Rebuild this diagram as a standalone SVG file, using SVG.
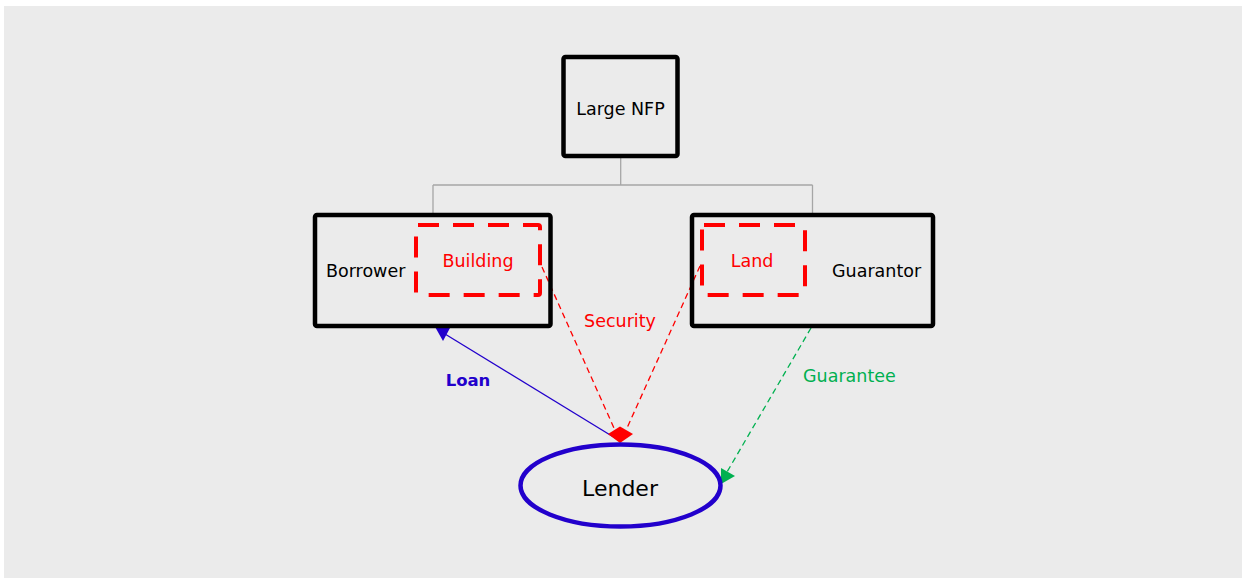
<svg xmlns="http://www.w3.org/2000/svg" width="1242" height="578" viewBox="0 0 1242 578">
<style>
.box{fill:none;stroke:#000;stroke-width:4.5}
.asset{fill:none;stroke:#FF0000;stroke-width:4;stroke-dasharray:21 14}
.t{font-family:"DejaVu Sans",sans-serif;font-size:17.5px;fill:#000}
.red{fill:#FF0000}
.org{fill:none;stroke:#A6A6A6;stroke-width:1.3}
.sec{fill:none;stroke:#FF0000;stroke-width:1.3;stroke-dasharray:6 4}
.gua{fill:none;stroke:#00B050;stroke-width:1.3;stroke-dasharray:6 4}
</style>
<rect x="4" y="6" width="1238" height="572" fill="#EBEBEB"/>
<g id="connectors">
<path class="org" d="M620.7 156V185M433 185H812.5M433 185V215M812.5 185V215"/>
<line x1="620" y1="441" x2="445" y2="334" stroke="#2200CC" stroke-width="1.3"/>
<polygon points="434,325 450,328 443,341" fill="#2200CC"/>
<line class="sec" x1="542" y1="267" x2="614" y2="428"/>
<line class="sec" x1="700" y1="266" x2="627" y2="428"/>
<polygon points="608,434 620,426.5 633,434 620,443" fill="#FF0000"/>
<line class="gua" x1="811" y1="328" x2="727" y2="472"/>
<polygon points="721,468 735,476 721,484" fill="#00B050"/>
<text class="t" x="468" y="386" text-anchor="middle" font-weight="bold" style="fill:#2200CC;font-size:16.5px;font-weight:bold">Loan</text>
<text class="t red" x="620" y="327" text-anchor="middle">Security</text>
<text class="t" x="803" y="382" style="fill:#00B050">Guarantee</text>
</g>
<g id="large-nfp">
<rect class="box" x="563.5" y="57" width="114" height="99" rx="2"/>
<text class="t" x="620.5" y="115" text-anchor="middle">Large NFP</text>
</g>
<g id="borrower">
<rect class="box" x="315" y="215" width="235.5" height="111" rx="2"/>
<text class="t" x="326" y="277">Borrower</text>
</g>
<g id="building">
<rect class="asset" x="416" y="225" width="124" height="70" rx="2"/>
<text class="t red" x="478" y="267" text-anchor="middle">Building</text>
</g>
<g id="guarantor">
<rect class="box" x="692" y="215" width="241" height="111" rx="2"/>
<text class="t" x="832" y="277">Guarantor</text>
</g>
<g id="land">
<rect class="asset" x="702" y="225" width="103" height="70" rx="2"/>
<text class="t red" x="752" y="267" text-anchor="middle">Land</text>
</g>
<g id="lender">
<ellipse cx="620.5" cy="485.5" rx="100" ry="41" fill="none" stroke="#2200CC" stroke-width="4.5"/>
<text class="t" x="620" y="496" text-anchor="middle" style="font-size:22px">Lender</text>
</g>
</svg>
